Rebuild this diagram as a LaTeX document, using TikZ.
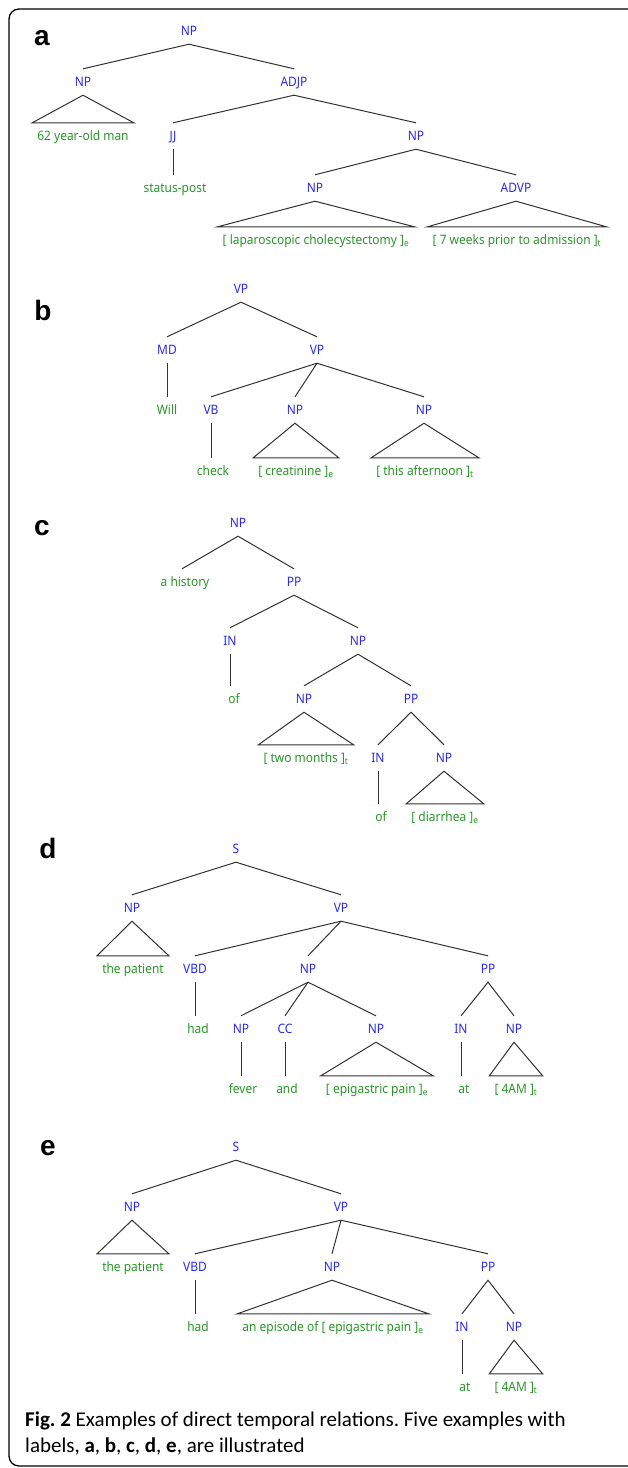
\documentclass[tikz,border=0pt]{standalone}
\usepackage{fontspec}
\setmainfont{Noto Sans}
\newfontfamily\tagfamily[FakeStretch=0.92]{Noto Sans}
\newfontfamily\panelfamily{Liberation Sans}
\newfontfamily\capfamily{Carlito}
\usetikzlibrary{calc,positioning}
\frenchspacing

\definecolor{tagblue}{RGB}{40,40,250}
\definecolor{wordgreen}{RGB}{40,150,40}
\definecolor{edgegray}{RGB}{50,50,50}

\begin{document}
\begin{tikzpicture}[x=1pt,y=-1pt]
  \tikzstyle{tag}=[
    text=tagblue,
    font=\tagfamily\fontsize{13}{15}\selectfont,
    text height=9.4pt, text depth=0pt,
    minimum height=26pt, inner sep=0pt
  ]
  \tikzstyle{word}=[tag,
    text=wordgreen,
    inner xsep=5pt
  ]
  \tikzstyle{edge}=[draw=edgegray, line width=1pt]
  \tikzstyle{panel}=[font=\panelfamily\bfseries\fontsize{28}{32}\selectfont, inner sep=0pt]

  \useasboundingbox (0,0) rectangle (627,1468);
  \draw[line width=1.3pt, rounded corners=10pt] (9,9) rectangle (645,1466);

  % a
  \node[panel] (a lbl) at (42,38) {a};
  \node[tag] (a np) at (189,31) {NP};
  \node[tag] (a np1) at (83,82) {NP};
  \node[tag] (a adjp) at (294,82) {ADJP};
  \node[word] (a man) at (83,136) {62 year-old man};
  \node[tag] (a jj) at (173,136) {JJ};
  \node[tag] (a np2) at (416,136) {NP};
  \node[word] (a status) at (175,188) {status-post};
  \node[tag] (a np3) at (315,188) {NP};
  \node[tag] (a advp) at (516,188) {ADVP};
  \node[word] (a lap) at (316,240) {[ laparoscopic cholecystectomy ]\textsubscript{e}};
  \node[word] (a weeks) at (517,240) {[ 7 weeks prior to admission ]\textsubscript{t}};

  \draw[edge] (a np1.north) -- (a np.south) -- (a adjp.north);
  \draw[edge] (a np1.south) -- (a man.north west) -- (a man.north east) -- cycle;
  \draw[edge] (a jj.north) -- (a adjp.south) -- (a np2.north);
  \draw[edge] (a jj.south) -- (a jj.south |- a status.north);
  \draw[edge] (a np3.north) -- (a np2.south) -- (a advp.north);
  \draw[edge] (a np3.south) -- (a lap.north west) -- (a lap.north east) -- cycle;
  \draw[edge] (a advp.south) -- (a weeks.north west) -- (a weeks.north east) -- cycle;

  % b
  \node[panel] (b lbl) at (43,310) {b};
  \node[tag] (b vp) at (241,289) {VP};
  \node[tag] (b md) at (167,350) {MD};
  \node[tag] (b vp1) at (317,350) {VP};
  \node[word] (b will) at (167,410) {Will};
  \node[tag] (b vb) at (211,410) {VB};
  \node[tag] (b np1) at (295,410) {NP};
  \node[tag] (b np2) at (424,410) {NP};
  \node[word] (b check) at (213,471) {check};
  \node[word] (b creat) at (296,471) {[ creatinine ]\textsubscript{e}};
  \node[word] (b noon) at (425,471) {[ this afternoon ]\textsubscript{t}};

  \draw[edge] (b md.north) -- (b vp.south) -- (b vp1.north);
  \draw[edge] (b md.south) -- (b md.south |- b will.north);
  \draw[edge] (b vb.north) -- (b vp1.south) -- (b np2.north);
  \draw[edge] (b vp1.south) -- (b np1.north);
  \draw[edge] (b vb.south) -- (b vb.south |- b check.north);
  \draw[edge] (b np1.south) -- (b creat.north west) -- (b creat.north east) -- cycle;
  \draw[edge] (b np2.south) -- (b noon.north west) -- (b noon.north east) -- cycle;

  % c
  \node[panel] (c lbl) at (42,528) {c};
  \node[tag] (c np) at (238,523) {NP};
  \node[word] (c hist) at (185,582) {a history};
  \node[tag] (c pp) at (294,582) {PP};
  \node[tag] (c in) at (230,641) {IN};
  \node[tag] (c np1) at (358,641) {NP};
  \node[word] (c of) at (234,699) {of};
  \node[tag] (c np2) at (304,699) {NP};
  \node[tag] (c pp1) at (411,699) {PP};
  \node[word] (c months) at (306,758) {[ two months ]\textsubscript{t}};
  \node[tag] (c in1) at (378,758) {IN};
  \node[tag] (c np3) at (444,758) {NP};
  \node[word] (c of1) at (381,817) {of};
  \node[word] (c diarr) at (445,817) {[ diarrhea ]\textsubscript{e}};

  \draw[edge] ($(c hist.north)+(-3,0)$) -- (c np.south) -- (c pp.north);
  \draw[edge] (c in.north) -- (c pp.south) -- (c np1.north);
  \draw[edge] (c in.south) -- (c in.south |- c of.north);
  \draw[edge] (c np2.north) -- (c np1.south) -- (c pp1.north);
  \draw[edge] (c np2.south) -- (c months.north west) -- (c months.north east) -- cycle;
  \draw[edge] (c in1.north) -- (c pp1.south) -- (c np3.north);
  \draw[edge] (c in1.south) -- (c in1.south |- c of1.north);
  \draw[edge] (c np3.south) -- (c diarr.north west) -- (c diarr.north east) -- cycle;

  % d
  \node[panel] (d lbl) at (48,848) {d};
  \node[tag] (d s) at (236,849) {S};
  \node[tag] (d np) at (132,908) {NP};
  \node[tag] (d vp) at (341,908) {VP};
  \node[word] (d pat) at (133,969) {the patient};
  \node[tag] (d vbd) at (195,969) {VBD};
  \node[tag] (d np1) at (308,969) {NP};
  \node[tag] (d pp) at (488,969) {PP};
  \node[word] (d had) at (198,1029) {had};
  \node[tag] (d np2) at (241,1029) {NP};
  \node[tag] (d cc) at (285,1029) {CC};
  \node[tag] (d np3) at (376,1029) {NP};
  \node[tag] (d in) at (461,1029) {IN};
  \node[tag] (d np4) at (514,1029) {NP};
  \node[word] (d fever) at (243,1089) {fever};
  \node[word] (d and) at (287,1089) {and};
  \node[word] (d pain) at (377,1089) {[ epigastric pain ]\textsubscript{e}};
  \node[word] (d at) at (464,1089) {at};
  \node[word] (d am) at (516,1089) {[ 4AM ]\textsubscript{t}};

  \draw[edge] (d np.north) -- (d s.south) -- (d vp.north);
  \draw[edge] (d np.south) -- (d pat.north west) -- (d pat.north east) -- cycle;
  \draw[edge] (d vbd.north) -- (d vp.south) -- (d pp.north);
  \draw[edge] (d vp.south) -- (d np1.north);
  \draw[edge] (d vbd.south) -- (d vbd.south |- d had.north);
  \draw[edge] (d np2.north) -- (d np1.south) -- (d np3.north);
  \draw[edge] (d np1.south) -- (d cc.north);
  \draw[edge] (d in.north) -- (d pp.south) -- (d np4.north);
  \draw[edge] (d np2.south) -- (d np2.south |- d fever.north);
  \draw[edge] (d cc.south) -- (d cc.south |- d and.north);
  \draw[edge] (d np3.south) -- (d pain.north west) -- (d pain.north east) -- cycle;
  \draw[edge] (d in.south) -- (d in.south |- d at.north);
  \draw[edge] (d np4.south) -- (d am.north west) -- (d am.north east) -- cycle;

  % e
  \node[panel] (e lbl) at (48,1148) {e};
  \node[tag] (e s) at (236,1147) {S};
  \node[tag] (e np) at (132,1207) {NP};
  \node[tag] (e vp) at (341,1207) {VP};
  \node[word] (e pat) at (133,1267) {the patient};
  \node[tag] (e vbd) at (195,1267) {VBD};
  \node[tag] (e np1) at (332,1267) {NP};
  \node[tag] (e pp) at (488,1267) {PP};
  \node[word] (e had) at (198,1327) {had};
  \node[word] (e ep) at (333,1327) {an episode of [ epigastric pain ]\textsubscript{e}};
  \node[tag] (e in) at (462,1327) {IN};
  \node[tag] (e np2) at (514,1327) {NP};
  \node[word] (e at) at (465,1387) {at};
  \node[word] (e am) at (516,1387) {[ 4AM ]\textsubscript{t}};

  \draw[edge] (e np.north) -- (e s.south) -- (e vp.north);
  \draw[edge] (e np.south) -- (e pat.north west) -- (e pat.north east) -- cycle;
  \draw[edge] (e vbd.north) -- (e vp.south) -- (e pp.north);
  \draw[edge] (e vp.south) -- (e np1.north);
  \draw[edge] (e vbd.south) -- (e vbd.south |- e had.north);
  \draw[edge] (e np1.south) -- (e ep.north west) -- (e ep.north east) -- cycle;
  \draw[edge] (e in.north) -- (e pp.south) -- (e np2.north);
  \draw[edge] (e in.south) -- (e in.south |- e at.north);
  \draw[edge] (e np2.south) -- (e am.north west) -- (e am.north east) -- cycle;

  \node[anchor=north west, inner sep=0pt, align=left,
    font=\capfamily\fontsize{21}{26}\selectfont] (caption) at (25,1412)
    {\textbf{Fig. 2} Examples of direct temporal relations. Five examples with\\
     labels, \textbf{a}, \textbf{b}, \textbf{c}, \textbf{d}, \textbf{e}, are illustrated};
\end{tikzpicture}
\end{document}
